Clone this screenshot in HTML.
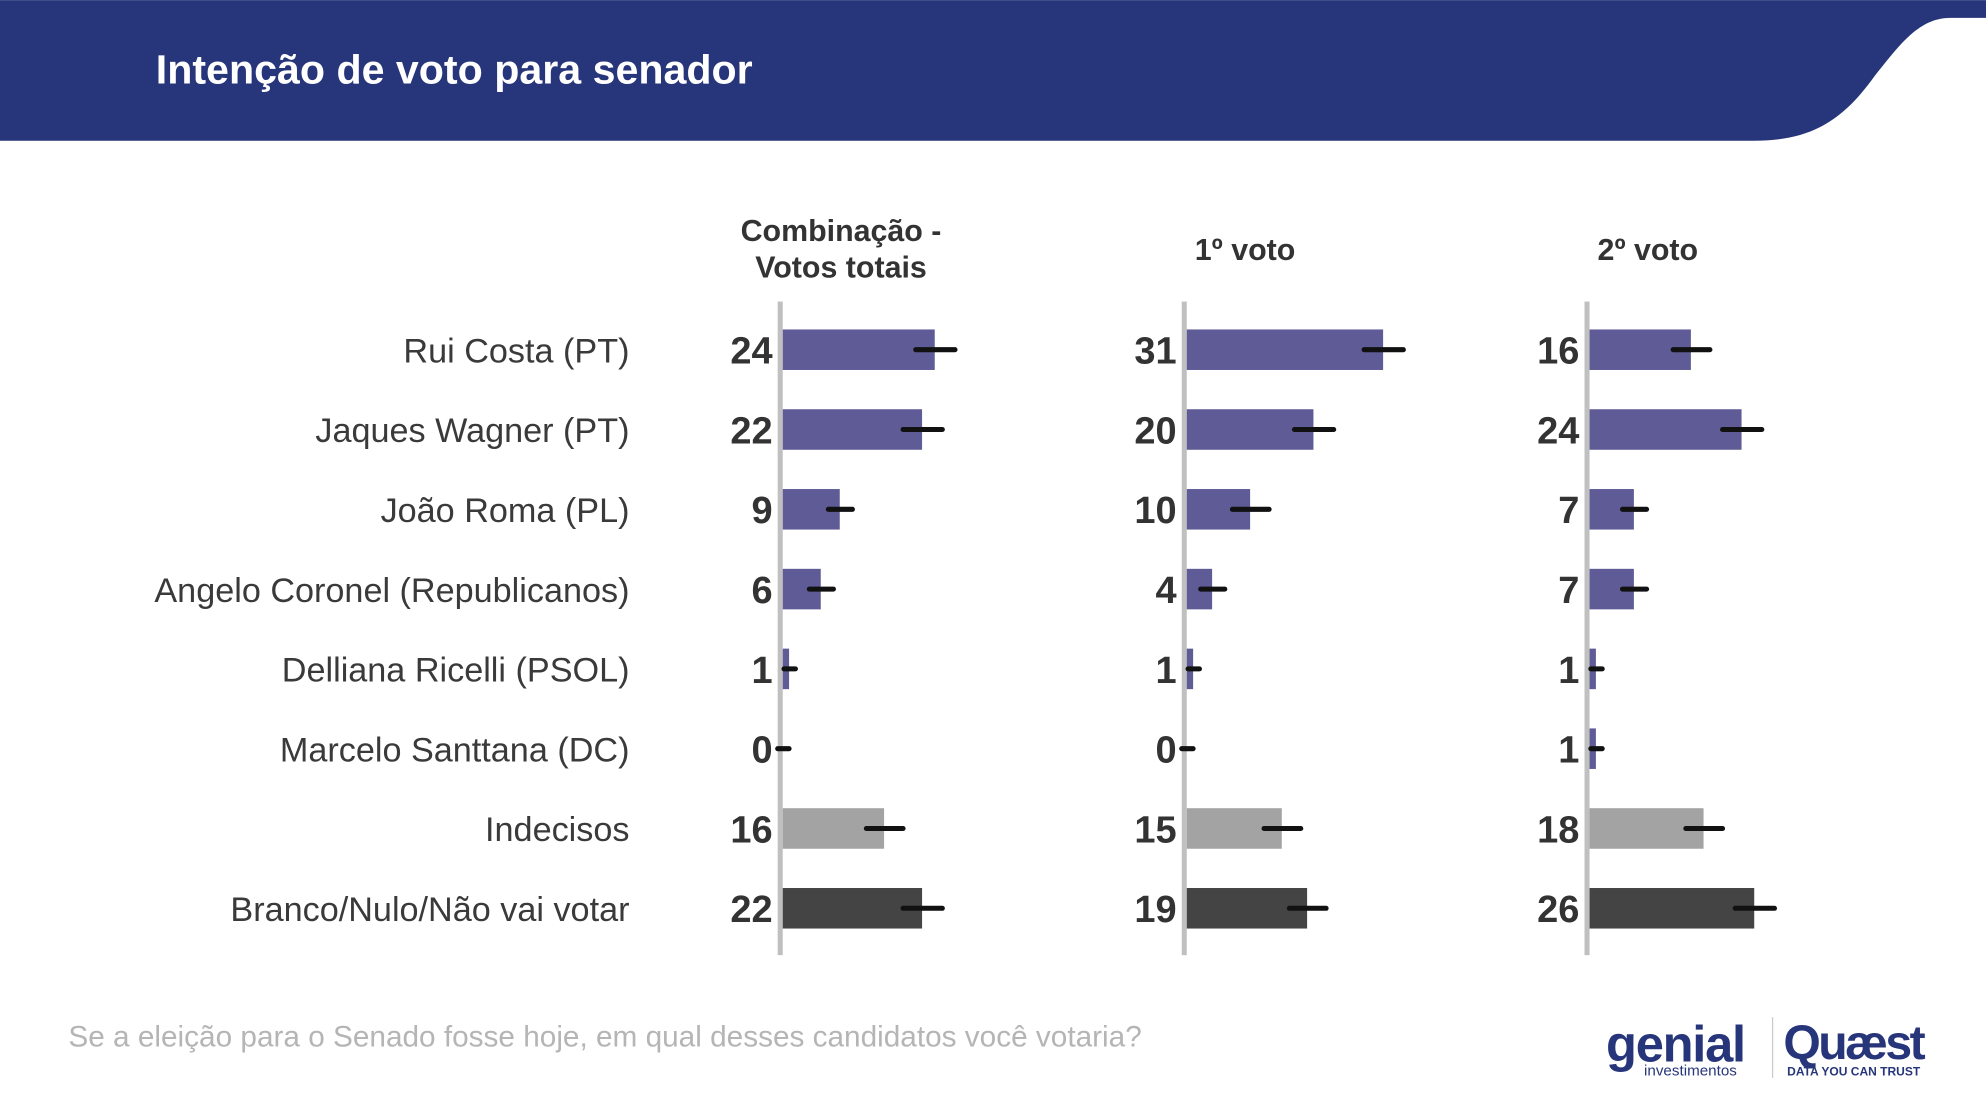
<!DOCTYPE html>
<html><head><meta charset="utf-8"><style>
html,body{margin:0;padding:0;background:#fff;}
svg{display:block;font-family:"Liberation Sans",sans-serif;}
</style></head><body>
<svg width="1986" height="1106" viewBox="0 0 1568 873" xmlns="http://www.w3.org/2000/svg">
<rect width="1568" height="873" fill="#fff"/>
<path d="M0 0 H1568 V14 H1540 C1515 14 1500 35 1480 60 C1455 95 1430 111 1385 111 H0 Z" fill="#27357a"/>
<text x="123" y="66" font-size="32.5" font-weight="bold" fill="#fff">Intenção de voto para senador</text>

<g font-size="24" font-weight="bold" fill="#333" text-anchor="middle">
<text x="664" y="190">Combinação -</text>
<text x="664" y="219">Votos totais</text>
<text x="983" y="205">1º voto</text>
<text x="1301" y="205">2º voto</text>
</g>

<g font-size="27" fill="#3a3a3a" text-anchor="end">
<text x="497" y="286">Rui Costa (PT)</text>
<text x="497" y="349">Jaques Wagner (PT)</text>
<text x="497" y="412">João Roma (PL)</text>
<text x="497" y="475">Angelo Coronel (Republicanos)</text>
<text x="497" y="538">Delliana Ricelli (PSOL)</text>
<text x="497" y="601">Marcelo Santtana (DC)</text>
<text x="497" y="664">Indecisos</text>
<text x="497" y="727">Branco/Nulo/Não vai votar</text>
</g>

<g id="charts"></g>

<text x="54" y="826" font-size="23.5" fill="#b5b5b5">Se a eleição para o Senado fosse hoje, em qual desses candidatos você votaria?</text>

<g fill="#27357a">
<text x="1268" y="838" font-size="40" font-weight="bold" letter-spacing="-1">genial</text>
<text x="1298" y="849" font-size="12">investimentos</text>
<rect x="1399" y="803" width="1" height="48" fill="#ccc"/>
<text x="1408" y="836" font-size="38" font-weight="bold" letter-spacing="-2">Quæst</text>
<text x="1411" y="849" font-size="9.5" font-weight="bold">DATA YOU CAN TRUST</text>
</g>
<script>
(function(){
var g=document.getElementById('charts');var ns='http://www.w3.org/2000/svg';
var data=[[24,22,9,6,1,0,16,22],[31,20,10,4,1,0,15,19],[16,24,7,7,1,1,18,26]];
var axes=[616,935,1253];
var cols=['#5f5b96','#5f5b96','#5f5b96','#5f5b96','#5f5b96','#5f5b96','#a3a3a3','#444444'];
function el(t,a,txt){var e=document.createElementNS(ns,t);for(var k in a)e.setAttribute(k,a[k]);if(txt!==undefined)e.textContent=txt;g.appendChild(e);return e;}
for(var c=0;c<3;c++){
 var ax=axes[c];
 el('rect',{x:ax-2,y:238,width:4,height:516,fill:'#c0c0c0'});
 for(var i=0;i<8;i++){
  var v=data[c][i],cy=276+63*i,x0=ax+2,w=v*5;
  if(v>0)el('rect',{x:x0,y:cy-16,width:w,height:32,fill:cols[i]});
  var end=x0+w,h=v<=1?4:(v<10?9:(v<20?14:15));
  el('line',{x1:end-h,y1:cy,x2:end+h+1,y2:cy,stroke:'#111','stroke-width':4,'stroke-linecap':'round'});
  el('text',{x:ax-6,y:cy+11,'font-size':30,'font-weight':'bold',fill:'#333','text-anchor':'end'},String(v));
 }
}
})();
</script>
</svg>
</body></html>
